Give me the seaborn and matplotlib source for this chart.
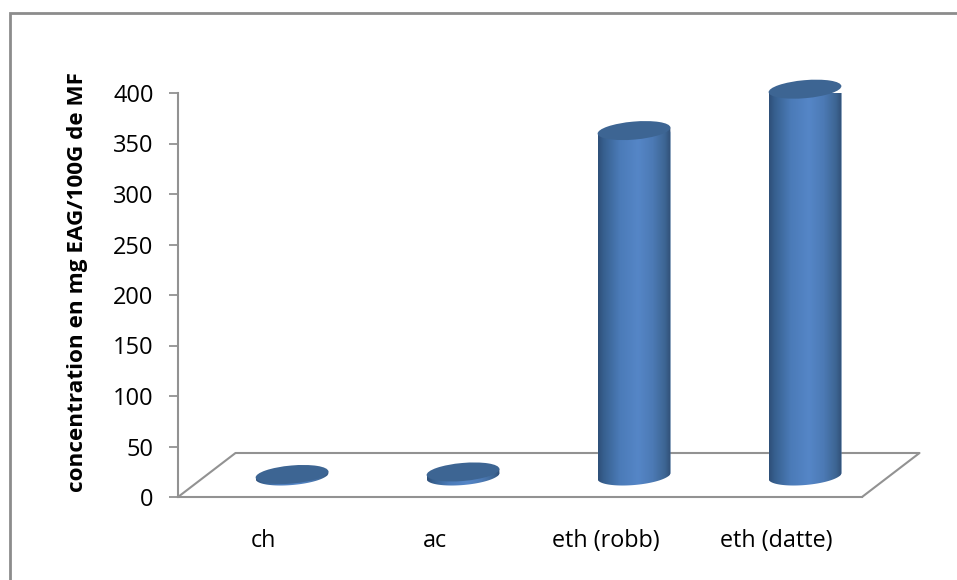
import numpy as np
import pandas as pd
import matplotlib
matplotlib.use("Agg")
import matplotlib.pyplot as plt
import seaborn as sns
from matplotlib.colors import LinearSegmentedColormap
from matplotlib.lines import Line2D
from matplotlib.patches import Ellipse, PathPatch
from matplotlib.path import Path
from matplotlib.transforms import Affine2D, IdentityTransform

categories = ["ch", "ac", "eth (robb)", "eth (datte)"]
concentration = [1.5, 4, 342, 383]
y_ticks = [0, 50, 100, 150, 200, 250, 300, 350, 400]
y_label = "concentration en mg EAG/100G de MF"

GRID = "#929292"
W, H = 957, 580

sns.set_theme(style="white")
plt.rcParams["font.family"] = ["Open Sans", "DejaVu Sans"]

fig = plt.figure(figsize=(W / 100, H / 100), dpi=100, facecolor="white")
ax = fig.add_axes([178 / W, 1 - 497 / H, 684 / W, 404 / H])
ax.patch.set_alpha(0)

# Chart border: only the top and left edges fall inside the figure
fig.add_artist(Line2D([9.5 / W, 9.5 / W, 1], [0, 1 - 13 / H, 1 - 13 / H], transform=fig.transFigure,
                      color="#8c8c8c", lw=2.0, solid_joinstyle="miter"))

df = pd.DataFrame({"extrait": categories, "concentration": concentration})
sns.barplot(data=df, x="extrait", y="concentration", color="#4a7ab5", width=73 / 171,
            saturation=1, ax=ax, zorder=3)
ax.set_xlim(-0.5, 3.5)
ax.set_ylim(0, 400)

# Columns stand halfway into the floor, so they shift back along its depth
depth = Affine2D().translate(28.5, 21)
bar_trans = ax.transData + depth
floor_back = ax.transData + Affine2D().translate(57.5, 44)

ax.plot([-0.5, 3.5], [0, 0], transform=floor_back, color=GRID, lw=1.5, clip_on=False, zorder=1)
fig.canvas.draw()
p0 = ax.transData.transform((-0.5, 0))
p1 = ax.transData.transform((3.5, 0))
for start in (p0, p1):
    ax.plot([start[0], start[0] + 57.5], [start[1], start[1] + 44], transform=IdentityTransform(),
            color=GRID, lw=1.5, clip_on=False, zorder=1)

shade = LinearSegmentedColormap.from_list(
    "cylinder",
    [(0, "#2e4f78"), (0.08, "#37608f"), (0.3, "#4b7bb8"), (0.55, "#5586c7"), (0.75, "#4c7ab5"),
     (0.92, "#3d6593"), (1, "#304f76")],
)
gradient = np.linspace(0, 1, 256).reshape(1, -1)

A, B = 36.5, 9.0
TILT_DEG = 5
TILT = np.deg2rad(TILT_DEG)
for bar in ax.patches:
    bar.set_transform(bar_trans)
    x0, w, h = bar.get_x(), bar.get_width(), bar.get_height()
    cx_base, cy_base = bar_trans.transform((x0 + w / 2, 0))
    cx_top, cy_top = bar_trans.transform((x0 + w / 2, h))

    # Outline of the side wall: lower arc of the base, straight up to the top disc
    t = np.linspace(np.pi, 2 * np.pi, 60)
    ex = A * np.cos(t) * np.cos(TILT) - B * np.sin(t) * np.sin(TILT)
    ey = A * np.cos(t) * np.sin(TILT) + B * np.sin(t) * np.cos(TILT)
    verts = np.column_stack([cx_base + ex, cy_base + ey])
    lift = cy_top - cy_base
    verts = np.vstack([verts, [verts[-1, 0], verts[-1, 1] + lift], [verts[0, 0], verts[0, 1] + lift], verts[0]])
    wall = PathPatch(Path(verts, closed=True), transform=IdentityTransform())
    bar.set_clip_path(wall)

    im = ax.imshow(gradient, extent=(x0, x0 + w, -20, h + 5), aspect="auto", cmap=shade,
                   transform=bar_trans, zorder=3.5, interpolation="bilinear")
    im.set_clip_path(wall)

    ax.add_patch(Ellipse((cx_top, cy_top), 2 * A, 2 * B, angle=TILT_DEG, transform=IdentityTransform(),
                         facecolor="#3d6593", edgecolor="none", zorder=4, clip_on=False))

ax.set_xlim(-0.5, 3.5)
ax.set_ylim(0, 400)

for side in ("top", "right"):
    ax.spines[side].set_visible(False)
for side in ("left", "bottom"):
    ax.spines[side].set_color(GRID)
    ax.spines[side].set_linewidth(1.5)

ax.set_yticks(y_ticks)
ax.tick_params(axis="y", which="major", left=True, length=6.5, width=1.3, color=GRID,
               labelsize=17, labelcolor="black", pad=11)
ax.tick_params(axis="x", which="major", bottom=False, labelsize=16.8, labelcolor="black", pad=17)
ax.set_xlabel("")
ax.set_ylabel(y_label, fontsize=16.2, fontweight="bold", color="black")
ax.yaxis.set_label_coords((88 - 178) / 684, (497 - 282) / 404)

fig.savefig("out.png", dpi=100, facecolor="white")
